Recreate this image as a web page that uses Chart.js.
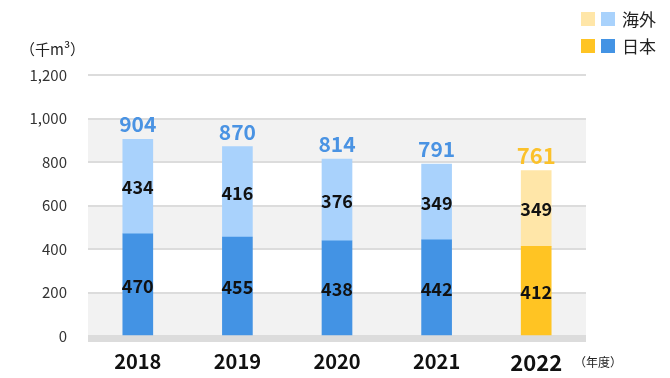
<!DOCTYPE html>
<html>
<head>
<meta charset="utf-8">
<script src="https://cdn.jsdelivr.net/npm/chart.js@4/dist/chart.umd.min.js"></script>
<style>
html,body{margin:0;padding:0;background:#fff;}
#wrap{position:relative;width:670px;height:378px;}
</style>
</head>
<body>
<div id="wrap"><canvas id="c" width="670" height="378"></canvas></div>
<script>
const categories = ['2018', '2019', '2020', '2021', '2022'];
const japan = [470, 455, 438, 442, 412];
const overseas = [434, 416, 376, 349, 349];
const totals = [904, 870, 814, 791, 761];
const yTicks = [0, 200, 400, 600, 800, 1000, 1200];
const legendLabels = ['海外', '日本'];
const unitLabel = '（千m³）';
const yearLabel = '（年度）';

const FONT = '"Noto Sans CJK JP", "Noto Sans", sans-serif';
const japanColors = ['#4393e4', '#4393e4', '#4393e4', '#4393e4', '#ffc423'];
const overseasColors = ['#a9d2fc', '#a9d2fc', '#a9d2fc', '#a9d2fc', '#ffe6a8'];
const totalColors = ['#4a93e3', '#4a93e3', '#4a93e3', '#4a93e3', '#fbc12b'];

const decor = {
  id: 'decor',
  beforeDraw(chart) {
    const {ctx, chartArea: a, scales: {y}} = chart;
    ctx.save();
    ctx.fillStyle = '#f2f2f2';
    for (let v = 0; v < 1200; v += 400) {
      const t = y.getPixelForValue(v + 200), b = y.getPixelForValue(v);
      ctx.fillRect(a.left, t, a.right - a.left, b - t);
    }
    ctx.restore();
  },
  beforeDatasetsDraw(chart) {
    const {ctx, chartArea: a, scales: {y}} = chart;
    const y0 = y.getPixelForValue(0);
    ctx.save();
    ctx.fillStyle = '#dcdcdc';
    ctx.fillRect(a.left, y0, a.right - a.left, 6);
    ctx.restore();
  },
  afterDraw(chart) {
    const {ctx, scales: {x, y}} = chart;
    ctx.save();
    ctx.textAlign = 'center';
    ctx.textBaseline = 'middle';
    ctx.fillStyle = '#111';
    ctx.font = 'bold 18px ' + FONT;
    categories.forEach((c, i) => {
      const xp = x.getPixelForValue(i);
      ctx.fillText(String(japan[i]), xp, (y.getPixelForValue(0) + y.getPixelForValue(japan[i])) / 2 + 1);
      ctx.fillText(String(overseas[i]), xp, (y.getPixelForValue(japan[i]) + y.getPixelForValue(japan[i] + overseas[i])) / 2 + 1);
    });
    categories.forEach((c, i) => {
      const xp = x.getPixelForValue(i);
      const last = i === categories.length - 1;
      ctx.font = 'bold ' + (last ? 22 : 21) + 'px ' + FONT;
      ctx.fillStyle = totalColors[i];
      ctx.fillText(String(totals[i]), xp, y.getPixelForValue(japan[i] + overseas[i]) - 15);
    });
    ctx.fillStyle = '#222';
    ctx.font = '15px ' + FONT;
    ctx.textAlign = 'left';
    ctx.fillText(unitLabel, 20, 49);
    ctx.font = '12px ' + FONT;
    ctx.fillText(yearLabel, 574, 362);
    const rows = [[overseasColors[4], overseasColors[0], legendLabels[0], 19], [japanColors[4], japanColors[0], legendLabels[1], 46]];
    rows.forEach(r => {
      ctx.fillStyle = r[0];
      ctx.fillRect(581, r[3] - 7, 14, 14);
      ctx.fillStyle = r[1];
      ctx.fillRect(601, r[3] - 7, 14, 14);
      ctx.fillStyle = '#222';
      ctx.font = '17px ' + FONT;
      ctx.fillText(r[2], 622, r[3] + 1);
    });
    ctx.restore();
  }
};

new Chart(document.getElementById('c'), {
  type: 'bar',
  data: {
    labels: categories,
    datasets: [
      {label: legendLabels[1], data: japan, backgroundColor: japanColors, barThickness: 30, borderWidth: 0},
      {label: legendLabels[0], data: overseas, backgroundColor: overseasColors, barThickness: 30, borderWidth: 0}
    ]
  },
  options: {
    responsive: false,
    animation: false,
    devicePixelRatio: 1,
    layout: {padding: {top: 75, right: 84, left: 2, bottom: 0}},
    plugins: {legend: {display: false}, tooltip: {enabled: false}},
    scales: {
      x: {
        stacked: true,
        grid: {display: false},
        border: {display: false},
        afterFit(s) { s.height = 42; },
        ticks: {
          padding: 5,
          color: '#111',
          font: (ctx) => ({family: FONT, weight: 'bold', size: ctx.index === categories.length - 1 ? 22 : 20})
        }
      },
      y: {
        stacked: true,
        min: 0, max: 1200,
        afterFit(s) { s.width = 86; },
        afterBuildTicks(s) { s.ticks = yTicks.map(v => ({value: v})); },
        grid: {color: '#dcdcdc', lineWidth: 2, drawTicks: false},
        border: {display: false},
        ticks: {
          padding: 21,
          color: '#333',
          font: {family: FONT, size: 15},
          callback: (v) => Number(v).toLocaleString('en-US')
        }
      }
    }
  },
  plugins: [decor]
});
</script>
</body>
</html>
